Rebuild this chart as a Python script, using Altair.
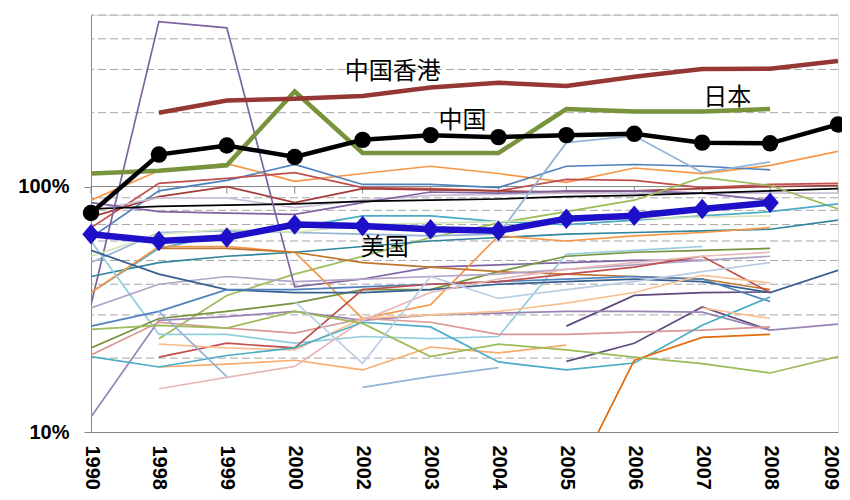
import altair as alt
import pandas as pd

N = None
YEARS = ["1990", "1998", "1999", "2000", "2002", "2003", "2004", "2005", "2006", "2007", "2008", "2009"]

# highlighted series (percent)
HK = [N, 200, 224, 228, 234, 253, 265, 257, 280, 301, 302, 325]
JAPAN = [113, 116, 122, 244, 137, 137, 137, 207, 202, 202, 207, N]
CHINA = [78, 135, 147, 132, 155, 162, 159, 162, 164, 151, 150, 179]
USA = [64, 60, 62, 70, 69, 67, 66, 74, 76, 81, 86, N]

# background series: name, colour, values
BG_NAMES = ["s01", "s02", "s03", "s04", "s05", "s06", "s07", "s08", "s09", "s10",
            "s11", "s12", "s13", "s14", "s15", "s16", "s17", "s18", "s19", "s20",
            "s21", "s22", "s23", "s24", "s25", "s26", "s27", "s28", "s29", "s30",
            "s31", "s32", "s33", "s34", "s35"]
BG_COLORS = ["#F79646", "#4F81BD", "#C0504D", "#A33C39", "#CCC1DA", "#8064A2", "#000000", "#9BBB59", "#95B3D7", "#7F63A1",
             "#31859C", "#4BACC6", "#D7E4BD", "#F79646", "#93CDDD", "#76923C", "#C0772F", "#5F497A", "#604A7B", "#9983B5",
             "#B3A2C7", "#376092", "#4F81BD", "#D99694", "#C0504D", "#F9AB6B", "#FAC090", "#E6B9B8", "#4BACC6", "#E46C0A",
             "#9BBB59", "#B9CDE5", "#95B3D7", "#95B3D7", "#FAC090"]
BG_VALUES = [
    [88, 116, 124, 105, 113, 121, 113, 104, 119, 113, 122, 139],
    [62, 96, 106, 123, 102, 102, 99, 121, 123, 121, 117, N],
    [68, 103, 108, 114, 99, 98, 96, 107, 106, 99, 102, 103],
    [75, 91, 100, 86, 98, 97, 96, 95, 96, 98, 100, 101],
    [80, 90, 90, 82, 88, 92, 93, 94, 94, 94, 94, 94],
    [86, 79, 78, 77, 86, 95, 94, 96, 96, 94, 88, N],
    [81, 83, 84, 85, 87, 88, 89, 91, 92, 94, 96, 98],
    [N, 24, 36, 44, 52, 62, 71, 79, 88, 109, 101, 81],
    [49, 65, 66, 65, 64, 63, 64, 151, 161, 114, 126, N],
    [33, 470, 443, 39, 42, 47, 48, 49, 50, 50, N, N],
    [43, 49, 52, 54, 57, 60, 62, 64, 65, 66, 67, 73],
    [37, 56, 64, 68, 76, 76, 72, 70, 73, 76, 79, 85],
    [52, 64, 67, 65, 70, 71, 72, 73, 74, 75, 76, N],
    [37, 57, 57, 54, 29, 33, 63, 60, 63, 65, 68, N],
    [60, 25, 25, 23, 24.5, 24, 24.5, 53, 55, 57, N, N],
    [22, 29, 31, 33.5, 38, 38, 45, 52, 54, 55, 56, N],
    [N, 56, 56, 54, 49, 47, 45, 44, 43, 42, 38, N],
    [N, N, N, N, N, N, N, 27, 36, 37, 37.2, N],
    [N, N, N, N, N, N, N, 19.4, 23, 32.3, 26, N],
    [11.5, 28.5, 29.5, 31, 28.5, 30, 30.5, 31, 31, 30.8, 26, 27.5],
    [32, 40, 43, 41, 42, 43, 44, 46, 48, 50, 52, N],
    [55, 44, 38, 37, 37, 38, 40, 41, 42, 41, 37, 45.6],
    [27, 31, 38, 38, 39, 40, 41, 42, 43, 42, 34, N],
    [20.6, 28, 26.5, 25.3, 29, 28, 25, 25, 25.5, 26, 26.8, N],
    [N, 20.2, 23, 22, 38, 40, 41, 44, 47, 52, 37, N],
    [N, 18.4, 18.9, 19.6, 17.9, 22.2, 21, 22.6, N, N, N, N],
    [N, 22.8, 22, 21.6, 29, 30, 31, 33.5, 37, 43.5, 40.5, N],
    [N, 15, 16.7, 18.5, 28.5, 37, 42, 46, 49, 52, 54, N],
    [20.3, 18.4, 20.5, 22, 28, 26.8, 19.3, 17.9, 19.1, 27.2, 35.5, N],
    [N, N, N, N, N, N, N, 5.5, 19.6, 24.3, 25, N],
    [26.2, 27.2, 26.5, 31, 27.7, 20.3, 22.8, 21.6, 20.2, 19, 17.4, 20.3],
    [N, N, N, 34, 19, 43, 35, 38, 41, 45, 49, N],
    [N, 31, 16.8, N, N, N, N, N, N, N, N, N],
    [N, N, N, N, 15.2, 16.8, 18.3, N, N, N, N, N],
    [N, N, N, N, N, N, N, N, N, 32, 29, N],
]

GRID_MINOR = [20, 30, 40, 50, 60, 70, 80, 90, 200, 300, 400, 500]
Y_LABELS = [10, 100]

LABELS = ["中国香港", "中国", "日本", "美国"]
LABEL_YEAR = ["2002", "2003", "2007", "2002"]
LABEL_VALUE = [293, 185, 230, 56]
LABEL_DX = [30, 32, 25, 22]


def long(name, vals):
    return [{"series": name, "year": y, "value": v} for y, v in zip(YEARS, vals) if v is not None]


bg_rows = []
for n, v in zip(BG_NAMES, BG_VALUES):
    bg_rows += long(n, v)
bg_df = pd.DataFrame(bg_rows)

x_scale = alt.Scale(type="point", padding=0, domain=YEARS)
y_scale = alt.Scale(type="log", domain=[10, 500], nice=False)

x_axis = alt.Axis(title=None, labelAngle=90, labelFont="Liberation Sans", labelFontSize=20,
                  labelFontWeight="bold", labelColor="black", ticks=False, tickSize=0,
                  labelPadding=13, domainColor="#868686", domainWidth=1, grid=False,
                  labelOverlap=False, labelBound=False,
                  labelOffset=alt.ExprRef(expr="datum.value == '2009' ? -8 : 0"))
y_axis = alt.Axis(title=None, values=Y_LABELS, labelExpr="datum.value + '%'",
                  labelFont="Liberation Sans", labelFontSize=20, labelFontWeight="bold",
                  labelColor="black", tickSize=7, tickColor="#868686", labelPadding=15,
                  domainColor="#868686", domainWidth=1, grid=False)

X = alt.X("year:O", scale=x_scale, axis=x_axis)
Y = alt.Y("value:Q", scale=y_scale, axis=y_axis)

grid = alt.Chart(pd.DataFrame({"value": GRID_MINOR})).mark_rule(
    color="#A6A6A6", strokeWidth=1, strokeDash=[8, 4]
).encode(y=Y)

axis100 = alt.Chart(pd.DataFrame({"value": [100]})).mark_rule(
    color="#868686", strokeWidth=1
).encode(y=Y)

ticks100 = alt.Chart(pd.DataFrame({"year": YEARS, "value": [100] * len(YEARS), "v2": [93.6] * len(YEARS)})).mark_rule(
    color="#868686", strokeWidth=1
).encode(x=X, y=Y, y2="v2")

bg = alt.Chart(bg_df).mark_line(strokeWidth=1.7, clip=True).encode(
    x=X, y=Y,
    color=alt.Color("series:N", scale=alt.Scale(domain=BG_NAMES, range=BG_COLORS), legend=None),
)


def thick(vals, color, width):
    df = pd.DataFrame(long("x", vals))
    return alt.Chart(df).mark_line(color=color, strokeWidth=width, clip=True).encode(x=X, y=Y)


japan = thick(JAPAN, "#77933C", 4.5)
hk = thick(HK, "#953735", 4.5)
china = thick(CHINA, "#000000", 4.5)
china_pts = alt.Chart(pd.DataFrame(long("c", CHINA))).mark_point(
    shape="circle", filled=True, size=270, color="#000000", opacity=1
).encode(x=X, y=Y)
usa = thick(USA, "#1E0FC8", 6.5)
usa_pts = alt.Chart(pd.DataFrame(long("u", USA))).mark_point(
    shape="M-0.85,0L0,-1L0.85,0L0,1Z", filled=True, size=420, color="#1E0FC8", opacity=1
).encode(x=X, y=Y)

texts = []
for lab, yr, val, dx in zip(LABELS, LABEL_YEAR, LABEL_VALUE, LABEL_DX):
    texts.append(
        alt.Chart(pd.DataFrame({"label": [lab], "year": [yr], "value": [val]})).mark_text(
            font="Noto Sans CJK SC", fontSize=24, color="black", dx=dx, align="center", baseline="middle"
        ).encode(x=X, y=Y, text="label:N")
    )

chart = alt.layer(grid, axis100, ticks100, bg, japan, hk, china, china_pts, usa, usa_pts, *texts).properties(
    width=747, height=417,
    autosize=alt.AutoSizeParams(type="none"),
    padding={"left": 83, "top": 7, "right": 4, "bottom": 60},
).configure_view(stroke=None).configure(background="white")

chart.save("out.html", embed_options={"renderer": "svg", "actions": False})
